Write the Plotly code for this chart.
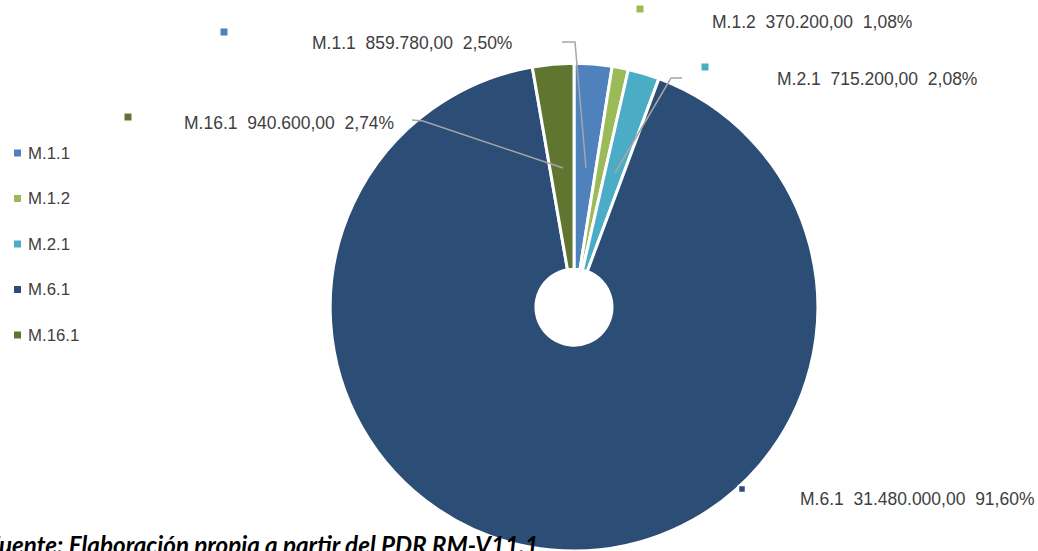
import plotly.graph_objects as go

categories = ["M.1.1", "M.1.2", "M.2.1", "M.6.1", "M.16.1"]
values = [859780, 370200, 715200, 31480000, 940600]
colors = ["#4F81BD", "#9BBB59", "#4BACC6", "#2C4D75", "#5F7530"]
footer = "Fuente: Elaboración propia a partir del PDR RM-V11.1"

W, H = 1038, 551
def px(x):
    return x / W
def py(y):
    return 1 - y / H

total = sum(values)
def fmt_num(v):
    s = f"{v:,.2f}"
    return s.replace(",", "X").replace(".", ",").replace("X", ".")
def fmt_pct(v):
    return f"{v / total * 100:.2f}".replace(".", ",") + "%"

GAP = "\u00a0\u00a0"
labels_txt = [f"{c}{GAP}{fmt_num(v)}{GAP}{fmt_pct(v)}" for c, v in zip(categories, values)]

LABEL_FONT = dict(family="Liberation Sans, Arial, sans-serif", size=17.5, color="#404040")
LEGEND_FONT = dict(family="Liberation Sans, Arial, sans-serif", size=16.8, color="#404040")

fig = go.Figure()
fig.add_trace(go.Pie(
    labels=categories, values=values, sort=False, direction="clockwise", rotation=0,
    hole=0.156, marker=dict(colors=colors, line=dict(color="white", width=3)),
    textinfo="none", showlegend=False,
    domain=dict(x=[330 / W, 818 / W], y=[0, 0.885]),
))

annotations = []
shapes = []

# data label placement (layout positions, pixel space)
label_pos = [  # text center x, y ; square x, y ; leader path
    (412, 43, 224, 32, [(562, 42), (575, 42), (586, 168)]),
    (812, 22, 640, 9, None),
    (877, 79, 705, 67, [(682, 78), (671, 78), (615, 173)]),
    (917, 499, 742, 489, None),
    (289, 123, 128, 117, [(412, 120), (423, 121), (563, 168)]),
]
for i, (tx, ty, sx, sy, path) in enumerate(label_pos):
    annotations.append(dict(x=px(tx), y=py(ty), xref="paper", yref="paper", text=labels_txt[i],
                            showarrow=False, xanchor="center", yanchor="middle", font=LABEL_FONT))
    s = 3.5
    shapes.append(dict(type="rect", xref="paper", yref="paper",
                       x0=px(sx - s), x1=px(sx + s), y0=py(sy + s), y1=py(sy - s),
                       fillcolor=colors[i],
                       line=dict(color="white", width=1.5 if categories[i] == "M.6.1" else 0)))
    if path:
        d = "M " + " L ".join(f"{px(x)},{py(y)}" for x, y in path)
        shapes.append(dict(type="path", xref="paper", yref="paper", path=d,
                           line=dict(color="#A6A6A6", width=1.5)))

# custom legend
for i, c in enumerate(categories):
    ly = 153 + i * 45.5
    s = 3.5
    shapes.append(dict(type="rect", xref="paper", yref="paper",
                       x0=px(17.5 - s), x1=px(17.5 + s), y0=py(ly + s), y1=py(ly - s),
                       fillcolor=colors[i], line=dict(width=0)))
    annotations.append(dict(x=px(26), y=py(ly), xref="paper", yref="paper", text=c,
                            showarrow=False, xanchor="left", yanchor="middle", font=LEGEND_FONT))

annotations.append(dict(x=px(-15), y=py(544), xref="paper", yref="paper",
                        text=f"<b><i>{footer}</i></b>", showarrow=False,
                        xanchor="left", yanchor="middle",
                        font=dict(family="Lato, Open Sans, sans-serif", size=24.2, color="#000000")))

fig.update_layout(
    width=W, height=H, margin=dict(l=0, r=0, t=0, b=0),
    paper_bgcolor="white", plot_bgcolor="white",
    annotations=annotations, shapes=shapes,
)

fig.write_html("out.html", config={"displayModeBar": False},
               post_script="document.body.style.margin='0';")
